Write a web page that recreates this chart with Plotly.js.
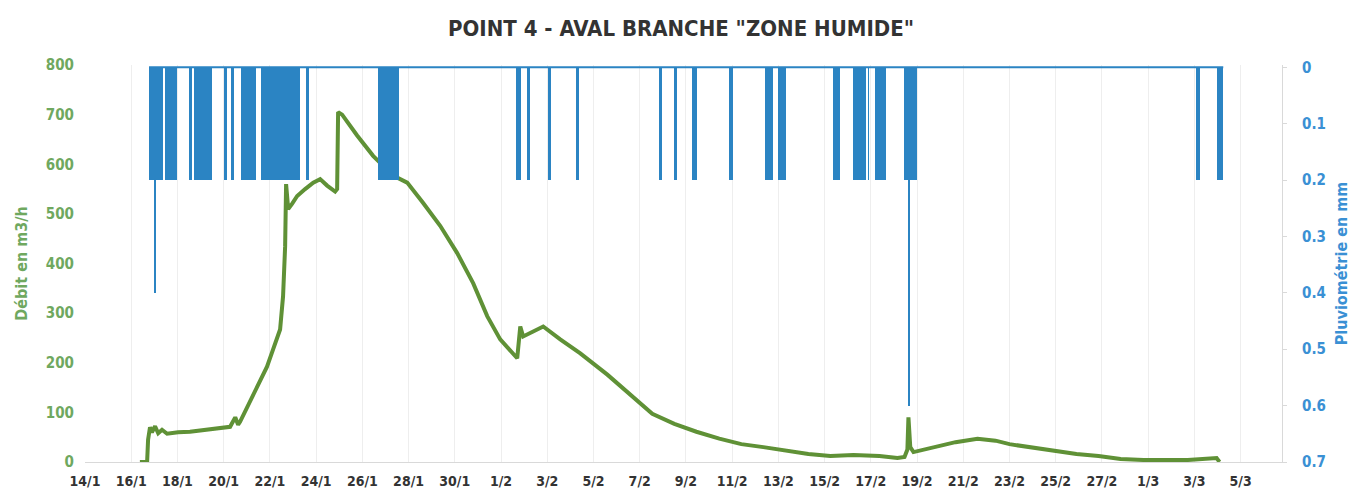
<!DOCTYPE html>
<html>
<head>
<meta charset="utf-8">
<script src="https://cdn.plot.ly/plotly-3.0.1.min.js"></script>
<style>
  html, body { margin: 0; padding: 0; background: #ffffff; }
  #chart { width: 1354px; height: 494px; }
</style>
</head>
<body>
<div id="chart"></div>
<script>
// Discharge at point 4 (m3/h), timestamps
const flowTime = [
  '2015-01-16 09:00', '2015-01-16 16:30', '2015-01-16 17:30', '2015-01-16 19:30', '2015-01-16 21:30',
  '2015-01-17 00:45', '2015-01-17 04:00', '2015-01-17 08:00', '2015-01-17 13:15', '2015-01-18 00:40',
  '2015-01-18 13:00', '2015-01-19 06:45', '2015-01-19 20:20', '2015-01-20 06:40', '2015-01-20 12:00',
  '2015-01-20 15:00', '2015-01-20 17:00', '2015-01-21 00:20', '2015-01-21 10:40', '2015-01-21 21:00',
  '2015-01-22 03:20', '2015-01-22 10:35', '2015-01-22 13:40', '2015-01-22 15:50', '2015-01-22 16:50',
  '2015-01-22 19:00', '2015-01-22 23:00', '2015-01-23 04:20', '2015-01-23 12:35', '2015-01-23 21:00',
  '2015-01-24 04:10', '2015-01-24 11:25', '2015-01-24 19:45', '2015-01-24 21:50', '2015-01-24 22:50',
  '2015-01-25 03:00', '2015-01-25 18:35', '2015-01-26 11:10', '2015-01-27 08:00', '2015-01-27 22:35',
  '2015-01-28 15:10', '2015-01-29 08:50', '2015-01-30 02:30', '2015-01-30 19:10', '2015-01-31 09:40',
  '2015-01-31 23:10', '2015-02-01 16:50', '2015-02-01 20:00', '2015-02-01 23:00', '2015-02-02 19:50',
  '2015-02-03 13:30', '2015-02-04 10:20', '2015-02-05 14:25', '2015-02-06 13:10', '2015-02-07 13:05',
  '2015-02-08 12:00', '2015-02-09 10:55', '2015-02-10 10:40', '2015-02-11 09:35', '2015-02-12 08:25',
  '2015-02-13 08:20', '2015-02-14 07:10', '2015-02-15 06:00', '2015-02-16 06:00', '2015-02-17 09:00',
  '2015-02-18 03:40', '2015-02-18 11:00', '2015-02-18 14:00', '2015-02-18 15:05', '2015-02-18 17:00',
  '2015-02-18 20:20', '2015-02-19 17:05', '2015-02-20 16:00', '2015-02-21 14:50', '2015-02-22 09:30',
  '2015-02-23 00:00', '2015-02-23 22:55', '2015-02-24 21:50', '2015-02-25 21:35', '2015-02-26 20:30',
  '2015-02-27 19:25', '2015-02-28 19:20', '2015-03-01 18:10', '2015-03-02 17:00', '2015-03-03 23:05',
  '2015-03-04 02:10'
];
const flowM3h = [
  0, 0, 45, 70, 60,
  72, 58, 65, 57, 60,
  61, 65, 67, 71, 90,
  75, 81, 111, 152, 192,
  227, 267, 334, 435, 560,
  510, 520, 536, 550, 563,
  570, 557, 545, 550, 705,
  700, 658, 617, 577, 563,
  522, 476, 421, 360, 294,
  247, 209, 273, 253, 273,
  247, 219, 176, 138, 97,
  77, 61, 47, 36, 30,
  22, 16, 12, 14, 12,
  8, 10, 25, 90, 30,
  20, 30, 40, 47, 43,
  36, 30, 22, 16, 12,
  6, 4, 4, 4, 8,
  0
];

// Rainfall episodes (mm): start, end, amount
const rainStart = [
  '2015-01-16 18:30', '2015-01-17 11:00', '2015-01-18 12:00', '2015-01-18 17:15', '2015-01-20 00:30',
  '2015-01-20 07:45', '2015-01-20 18:00', '2015-01-21 15:00', '2015-01-23 13:30', '2015-01-26 16:30',
  '2015-02-01 15:45', '2015-02-02 03:15', '2015-02-03 01:00', '2015-02-04 06:00', '2015-02-07 20:30',
  '2015-02-08 12:00', '2015-02-09 06:45', '2015-02-10 21:00', '2015-02-12 10:30', '2015-02-13 00:00',
  '2015-02-15 09:15', '2015-02-16 06:00', '2015-02-16 21:30', '2015-02-17 04:45', '2015-02-18 10:45',
  '2015-03-03 01:15', '2015-03-04 00:00',
  '2015-01-16 23:45', '2015-02-18 15:00'
];
const rainEnd = [
  '2015-01-17 09:00', '2015-01-17 23:30', '2015-01-18 15:00', '2015-01-19 12:00', '2015-01-20 03:30',
  '2015-01-20 10:45', '2015-01-21 09:45', '2015-01-23 07:30', '2015-01-23 16:45', '2015-01-27 14:15',
  '2015-02-01 21:00', '2015-02-02 06:30', '2015-02-03 04:15', '2015-02-04 09:15', '2015-02-07 23:30',
  '2015-02-08 15:00', '2015-02-09 11:00', '2015-02-11 01:15', '2015-02-12 18:45', '2015-02-13 08:15',
  '2015-02-15 16:30', '2015-02-16 18:30', '2015-02-16 22:30', '2015-02-17 16:15', '2015-02-18 23:30',
  '2015-03-03 06:15', '2015-03-04 06:00',
  '2015-01-17 01:45', '2015-02-18 17:00'
];
const rainMm = [
  0.2, 0.2, 0.2, 0.2, 0.2,
  0.2, 0.2, 0.2, 0.2, 0.2,
  0.2, 0.2, 0.2, 0.2, 0.2,
  0.2, 0.2, 0.2, 0.2, 0.2,
  0.2, 0.2, 0.2, 0.2, 0.2,
  0.2, 0.2,
  0.4, 0.6
];

const xTickStart = '2015-01-14';
const xEnd = '2015-03-06 19:00';

const GREEN_LINE = '#5f9136';
const GREEN_TEXT = '#6fa85f';
const BLUE_BAR = '#2b84c3';
const BLUE_TEXT = '#3a90d4';
const LABEL_FONT = '"Liberation Sans Narrow", "DejaVu Sans Condensed", "Roboto", sans-serif';
const DAY = 86400000;

const toMs = s => new Date(s.replace(' ', 'T') + ':00Z').getTime();
const toIso = ms => new Date(ms).toISOString().slice(0, 19).replace('T', ' ');

// Each episode is drawn as a bar spanning its own duration
const rainMid = rainStart.map((s, i) => toIso((toMs(s) + toMs(rainEnd[i])) / 2));
const rainWidth = rainStart.map((s, i) => toMs(rainEnd[i]) - toMs(s));

// Baseline of the rain gauge record, from its first to its last reading
const gaugeFrom = rainStart.reduce((a, b) => (toMs(a) < toMs(b) ? a : b));
const gaugeTo = rainEnd.reduce((a, b) => (toMs(a) > toMs(b) ? a : b));

const traces = [
  {
    type: 'bar',
    x: rainMid,
    y: rainMm,
    width: rainWidth,
    yaxis: 'y2',
    marker: { color: BLUE_BAR, line: { width: 0 } },
    hoverinfo: 'skip',
    showlegend: false
  },
  {
    type: 'scatter',
    mode: 'lines',
    x: [gaugeFrom, gaugeTo],
    y: [0, 0],
    yaxis: 'y2',
    line: { color: BLUE_BAR, width: 2 },
    hoverinfo: 'skip',
    showlegend: false
  },
  {
    type: 'scatter',
    mode: 'lines',
    x: flowTime,
    y: flowM3h,
    line: { color: GREEN_LINE, width: 4 },
    hoverinfo: 'skip',
    showlegend: false
  }
];

const layout = {
  width: 1354,
  height: 494,
  margin: { l: 85, r: 72, t: 65, b: 32 },
  paper_bgcolor: '#ffffff',
  plot_bgcolor: '#ffffff',
  showlegend: false,
  title: {
    text: 'POINT 4 - AVAL BRANCHE "ZONE HUMIDE"',
    font: { family: LABEL_FONT, size: 22, color: '#333333', weight: 'bold' },
    xref: 'container', x: 0.503, xanchor: 'center',
    yref: 'container', y: 1 - 28 / 494, yanchor: 'middle'
  },
  xaxis: {
    type: 'date',
    range: [xTickStart, xEnd],
    tick0: xTickStart,
    dtick: 2 * DAY,
    tickformat: '%-d/%-m',
    showgrid: true,
    gridcolor: '#eeeeee',
    gridwidth: 1,
    showline: true,
    linecolor: '#d9d9d9',
    linewidth: 1,
    ticks: '',
    ticklabelstandoff: 6,
    zeroline: false,
    tickfont: { family: LABEL_FONT, size: 14, color: '#333333', weight: 'bold' }
  },
  yaxis: {
    range: [0, 800],
    dtick: 100,
    showgrid: false,
    zeroline: false,
    showline: false,
    ticks: '',
    ticklabelstandoff: 10,
    tickfont: { family: LABEL_FONT, size: 15, color: GREEN_TEXT, weight: 'bold' },
    title: {
      text: 'Débit en m3/h',
      standoff: 14,
      font: { family: LABEL_FONT, size: 16, color: GREEN_TEXT, weight: 'bold' }
    }
  },
  yaxis2: {
    overlaying: 'y',
    side: 'right',
    range: [0.7, -0.004],
    tickvals: [0, 0.1, 0.2, 0.3, 0.4, 0.5, 0.6, 0.7],
    ticktext: ['0', '0.1', '0.2', '0.3', '0.4', '0.5', '0.6', '0.7'],
    showgrid: false,
    zeroline: false,
    showline: true,
    linecolor: '#d9d9d9',
    linewidth: 1,
    ticks: 'outside',
    ticklen: 4,
    tickcolor: '#d9d9d9',
    ticklabelstandoff: 12,
    tickfont: { family: LABEL_FONT, size: 15, color: BLUE_TEXT, weight: 'bold' },
    title: {
      text: 'Pluviométrie en mm',
      standoff: 10,
      font: { family: LABEL_FONT, size: 16, color: BLUE_TEXT, weight: 'bold' }
    }
  },
  bargap: 0
};

Plotly.newPlot('chart', traces, layout, { staticPlot: true, displayModeBar: false });
</script>
</body>
</html>
